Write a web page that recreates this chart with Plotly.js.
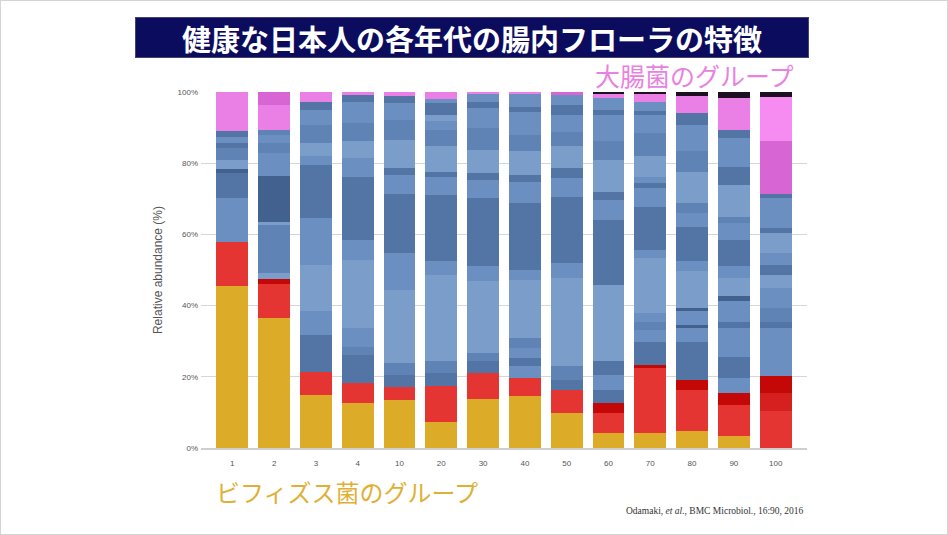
<!DOCTYPE html>
<html><head><meta charset="utf-8">
<script src="https://cdn.plot.ly/plotly-3.0.1.min.js"></script>
<style>
html,body{margin:0;padding:0;background:#fff;}
#chart{width:948px;height:535px;}
#frame{position:absolute;left:0;top:0;width:948px;height:535px;box-sizing:border-box;border:1px solid #d4d4d4;pointer-events:none;}
</style>
</head><body><div id="chart"></div><div id="frame"></div>
<script>
// ---- data: age groups and stacked segment heights (%) bottom -> top ----
const ages = ['1','2','3','4','10','20','30','40','50','60','70','80','90','100'];
const yTickVals = [0, 20, 40, 60, 80, 100];
const yTickText = ['0%', '20%', '40%', '60%', '80%', '100%'];

const seg_1   = [45.4, 12.4, 12.4, 7.0, 1.1, 2.6, 3.3, 1.4, 1.9, 1.6, 10.9];
const grp_1   = ['Y','R','B2','B4','B5','B1','B3','B4','B2','B4','P'];
const seg_2   = [36.5, 9.5, 1.5, 1.6, 13.6, 0.9, 12.9, 6.3, 2.8, 2.3, 1.4, 7.1, 3.6];
const grp_2   = ['Y','R','D','B1','B3','B1','B5','B2','B3','B2','B3','P','M'];
const seg_3   = [15.0, 6.3, 10.5, 6.6, 13.1, 13.0, 15.0, 2.4, 3.7, 5.1, 4.2, 2.4, 2.7];
const grp_3   = ['Y','R','B4','B2','B1','B2','B4','B2','B1','B3','B2','B4','P'];
const seg_4   = [12.6, 5.6, 8.0, 2.3, 5.2, 19.2, 5.6, 17.7, 5.2, 4.7, 5.1, 6.1, 1.9, 0.8];
const grp_4   = ['Y','R','B4','B3','B2','B1','B2','B4','B2','B1','B3','B2','B4','P'];
const seg_10  = [13.4, 3.6, 3.6, 3.3, 20.5, 10.3, 16.6, 5.4, 1.9, 7.9, 5.6, 4.7, 2.2, 1.0];
const grp_10  = ['Y','R','B4','B3','B1','B2','B4','B2','B4','B1','B3','B2','B4','P'];
const seg_20  = [7.2, 10.3, 3.5, 3.3, 24.3, 3.8, 18.7, 5.1, 1.4, 7.1, 4.6, 2.5, 1.7, 3.3, 1.2, 2.0];
const grp_20  = ['Y','R','B4','B3','B1','B2','B4','B2','B4','B1','B3','B2','B1','B4','B2','P'];
const seg_30  = [13.8, 7.2, 3.3, 2.4, 20.1, 4.2, 19.2, 5.1, 1.9, 6.5, 6.1, 5.6, 1.9, 2.0, 0.7];
const grp_30  = ['Y','R','B4','B3','B1','B2','B4','B2','B4','B1','B3','B2','B4','B2','P'];
const seg_40  = [14.5, 5.3, 3.1, 2.4, 2.8, 2.8, 16.3, 2.8, 18.8, 6.0, 1.9, 6.6, 4.6, 6.6, 1.4, 3.4, 0.7];
const grp_40  = ['Y','R','B2','B4','B2','B3','B1','B2','B4','B2','B4','B1','B3','B2','B4','B2','P'];
const seg_50  = [9.8, 6.6, 2.8, 3.7, 24.8, 4.2, 18.7, 5.2, 2.8, 6.1, 4.2, 4.6, 2.9, 2.8, 0.8];
const grp_50  = ['Y','R','B4','B3','B1','B2','B4','B2','B4','B1','B3','B2','B4','B2','M'];
const seg_60  = [4.2, 5.6, 2.8, 3.8, 4.2, 3.7, 21.5, 18.3, 5.6, 2.3, 8.9, 5.2, 7.4, 1.4, 3.5, 0.9, 0.7];
const grp_60  = ['Y','R','D','B4','B2','B4','B1','B4','B2','B4','B1','B3','B2','B4','B2','P','K'];
const seg_70  = [4.2, 18.3, 0.9, 6.5, 3.3, 2.3, 2.4, 15.4, 2.4, 12.1, 5.2, 1.4, 1.8, 5.7, 6.5, 5.1, 1.2, 2.6, 2.0, 0.7];
const grp_70  = ['Y','R','D','B4','B2','B3','B2','B1','B2','B4','B2','B4','B2','B1','B3','B2','B4','B2','P','K'];
const seg_80  = [4.7, 11.7, 2.8, 10.7, 3.8, 0.9, 3.8, 0.9, 10.3, 2.8, 9.8, 3.7, 2.9, 8.8, 5.7, 7.4, 3.3, 5.0, 1.0];
const grp_80  = ['Y','R','D','B4','B2','B5','B2','B5','B1','B2','B4','B2','B3','B1','B3','B2','B4','P','K'];
const seg_90  = [3.3, 8.9, 3.2, 4.2, 6.1, 8.0, 1.8, 5.7, 1.4, 5.1, 3.3, 7.5, 4.6, 1.9, 8.9, 5.1, 8.0, 2.3, 9.1, 1.6];
const grp_90  = ['Y','R','D','B2','B4','B2','B4','B2','B5','B1','B2','B4','B2','B3','B1','B4','B2','B4','P','K'];
const seg_100 = [0.0, 10.3, 5.1, 4.7, 13.6, 1.8, 3.8, 5.6, 3.7, 2.8, 3.3, 5.6, 1.4, 8.5, 1.1, 14.8, 12.6, 1.3];
const grp_100 = ['Y','R','R2','D','B2','B4','B3','B2','B1','B4','B2','B1','B4','B2','B4','M','L','K'];

// ---- styles ----
const palette = {
  Y:'#dcab27', R:'#e53533', R2:'#d61f1f', D:'#c40808',
  B1:'#7a9dca', B2:'#6b8fc0', B3:'#5f83b4', B4:'#5275a6', B5:'#43618e',
  P:'#ea7fe6', L:'#f68bf1', M:'#d865d4', K:'#1c1020'
};

const segs = [seg_1,seg_2,seg_3,seg_4,seg_10,seg_20,seg_30,seg_40,seg_50,seg_60,seg_70,seg_80,seg_90,seg_100];
const grps = [grp_1,grp_2,grp_3,grp_4,grp_10,grp_20,grp_30,grp_40,grp_50,grp_60,grp_70,grp_80,grp_90,grp_100];

const maxLen = Math.max(...segs.map(s => s.length));
const traces = [];
for (let k = 0; k < maxLen; k++) {
  traces.push({
    type: 'bar',
    x: ages,
    y: segs.map(s => (k < s.length ? s[k] : 0)),
    marker: { color: grps.map(g => (k < g.length ? palette[g[k]] : 'rgba(0,0,0,0)')), line: { width: 0 } },
    hoverinfo: 'skip',
    showlegend: false
  });
}

// ---- layout geometry (pixels) ----
const W = 948, H = 535;
const M = { l: 201, r: 141, t: 92, b: 87 };
const px2x = px => (px - M.l) / (W - M.l - M.r);
const px2y = py => (H - M.b - py) / (H - M.t - M.b);

const layout = {
  width: W, height: H,
  margin: M,
  paper_bgcolor: '#ffffff', plot_bgcolor: '#ffffff',
  barmode: 'stack',
  bargap: 0.24,
  font: { family: 'Liberation Sans, Arial, sans-serif', color: '#555' },
  xaxis: {
    type: 'category', range: [-0.75, 13.75], fixedrange: true,
    showgrid: false, zeroline: false,
    showline: true, linecolor: '#cfcfcf', linewidth: 1.5,
    ticks: '', ticklabelstandoff: 7,
    tickfont: { size: 8, color: '#555' }
  },
  yaxis: {
    range: [0, 100], fixedrange: true,
    tickmode: 'array', tickvals: yTickVals, ticktext: yTickText,
    showgrid: true, gridcolor: '#d6d6d6', gridwidth: 1,
    zeroline: false, showline: false, ticks: '', ticklabelstandoff: 2,
    tickfont: { size: 8, color: '#555' },
    title: { text: 'Relative abundance (%)', font: { size: 12, color: '#555' }, standoff: 12 }
  },
  annotations: [
    { text: '健康な日本人の各年代の腸内フローラの特徴', xref: 'paper', yref: 'paper',
      x: px2x(471.5), y: px2y(37.5), xanchor: 'center', yanchor: 'middle',
      width: 672, height: 39, bgcolor: '#0c0c5f', bordercolor: '#44446e', borderwidth: 1, borderpad: 0,
      showarrow: false,
      font: { family: 'Noto Sans CJK JP', size: 29, color: '#ffffff', weight: 'bold' } },
    { text: '大腸菌のグループ', xref: 'paper', yref: 'paper',
      x: px2x(796), y: px2y(75.5), xanchor: 'right', yanchor: 'middle', showarrow: false,
      font: { family: 'Noto Sans CJK JP', size: 25, color: '#e882e2' } },
    { text: 'ビフィズス菌のグループ', xref: 'paper', yref: 'paper',
      x: px2x(214), y: px2y(491), xanchor: 'left', yanchor: 'middle', showarrow: false,
      font: { family: 'Noto Sans CJK JP', size: 24, color: '#e0b035' } },
    { text: 'Odamaki, <i>et al.</i>, BMC Microbiol., 16:90, 2016', xref: 'paper', yref: 'paper',
      x: px2x(806), y: px2y(511), xanchor: 'right', yanchor: 'middle', showarrow: false,
      font: { family: 'Liberation Serif, DejaVu Serif, serif', size: 9.5, color: '#333' } }
  ]
};

Plotly.newPlot('chart', traces, layout, { staticPlot: true, displayModeBar: false });
</script>
</body></html>
